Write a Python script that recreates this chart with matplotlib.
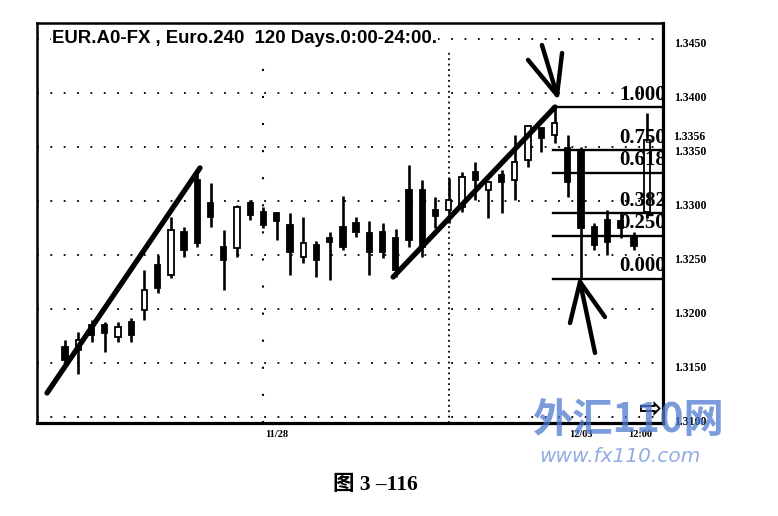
import matplotlib
matplotlib.use('Agg')
import matplotlib.pyplot as plt
from matplotlib.transforms import ScaledTranslation, blended_transform_factory

# ---- data ----
opens  = [1.3165, 1.3162, 1.3185, 1.3185, 1.3174, 1.3188, 1.3199, 1.3241, 1.3231, 1.3271,
          1.3319, 1.3298, 1.3257, 1.3256, 1.3298, 1.3290, 1.3289, 1.3278, 1.3248, 1.3259,
          1.3266, 1.3276, 1.3280, 1.3270, 1.3271, 1.3266, 1.3310, 1.3310, 1.3292, 1.3292,
          1.3294, 1.3327, 1.3310, 1.3324, 1.3319, 1.3338, 1.3368, 1.3361, 1.3349, 1.3347,
          1.3276, 1.3282, 1.3281, 1.3268, 1.3290]
closes = [1.3153, 1.3171, 1.3176, 1.3178, 1.3183, 1.3176, 1.3218, 1.3219, 1.3273, 1.3255,
          1.3261, 1.3285, 1.3245, 1.3294, 1.3287, 1.3278, 1.3281, 1.3253, 1.3261, 1.3245,
          1.3262, 1.3257, 1.3271, 1.3253, 1.3253, 1.3236, 1.3264, 1.3257, 1.3286, 1.3301,
          1.3322, 1.3319, 1.3318, 1.3318, 1.3336, 1.3369, 1.3358, 1.3372, 1.3318, 1.3275,
          1.3259, 1.3262, 1.3275, 1.3258, 1.3356]
highs  = [1.3171, 1.3179, 1.3190, 1.3188, 1.3188, 1.3192, 1.3236, 1.3250, 1.3285, 1.3276,
          1.3329, 1.3317, 1.3273, 1.3296, 1.3301, 1.3294, 1.3289, 1.3289, 1.3285, 1.3263,
          1.3271, 1.3305, 1.3285, 1.3281, 1.3280, 1.3274, 1.3333, 1.3319, 1.3304, 1.3321,
          1.3327, 1.3336, 1.3318, 1.3329, 1.3361, 1.3370, 1.3368, 1.3386, 1.3361, 1.3350,
          1.3280, 1.3292, 1.3290, 1.3271, 1.3381]
lows   = [1.3148, 1.3140, 1.3169, 1.3160, 1.3169, 1.3169, 1.3190, 1.3215, 1.3229, 1.3248,
          1.3257, 1.3276, 1.3218, 1.3248, 1.3282, 1.3275, 1.3264, 1.3231, 1.3243, 1.3230,
          1.3227, 1.3255, 1.3267, 1.3231, 1.3247, 1.3230, 1.3257, 1.3248, 1.3275, 1.3280,
          1.3290, 1.3301, 1.3284, 1.3289, 1.3301, 1.3331, 1.3345, 1.3354, 1.3304, 1.3229,
          1.3255, 1.3250, 1.3266, 1.3255, 1.3284]

price_ticks = [1.3100, 1.3150, 1.3200, 1.3250, 1.3300, 1.3350, 1.3400, 1.3450]
price_labels = ['1.3100', '1.3150', '1.3200', '1.3250', '1.3300', '1.3350', '1.3400', '1.3450']
last_price_label = '1.3356'
last_price_pos = 1.33593
date_ticks = [16, 39, 43.5]
date_labels = ['11/28', '12/03', '12:00']
separators = [15, 29]

trend1_x = [-1.36, 10.2]
trend1_y = [1.31222, 1.33306]
trend2_x = [24.8, 37.04]
trend2_y = [1.32296, 1.33870]

fib_low = 1.32280
fib_high = 1.33870
fib_start = 36.9
fib_ratios = [1.000, 0.750, 0.618, 0.382, 0.250, 0.000]
fib_texts = ['1.000', '0.750', '0.618', '0.382', '0.250', '0.000']

# hand-drawn arrows (index, price)
arrow_top = [([36.05, 37.19], [1.34444, 1.33981]),
             ([35.00, 37.19], [1.34306, 1.33981]),
             ([37.57, 37.19], [1.34370, 1.33981])]
arrow_bot = [([40.06, 38.93], [1.31593, 1.32250]),
             ([38.17, 38.93], [1.31870, 1.32250]),
             ([40.81, 38.93], [1.31926, 1.32250])]

title = 'EUR.A0-FX , Euro.240  120 Days.0:00-24:00.'
caption = '图 3 –116'

# ---- figure ----
W, H = 778, 516
fig = plt.figure(figsize=(W / 100, H / 100), dpi=100)
ax = fig.add_axes([37 / W, (H - 423) / H, (663 - 37) / W, (423 - 23) / H])
ax.set_xlim(-2.12, 45.2)
ax.set_ylim(1.30944, 1.34648)

for p in price_ticks:
    ax.axhline(p, color='black', lw=1.3, ls=(0, (1, 6.4)), zorder=1)
ax.axvline(separators[0], ymin=0, ymax=0.93, color='black', lw=1.5, ls=(0, (1, 12)), zorder=1)
ax.axvline(separators[1], ymin=0, ymax=0.93, color='black', lw=1.3, ls=(0, (1, 2)), zorder=1)

idx = list(range(len(opens)))
ax.vlines(idx, lows, highs, color='black', lw=1.9, zorder=3)
bottoms = [min(o, c) for o, c in zip(opens, closes)]
heights = [max(abs(c - o), 0.00005) for o, c in zip(opens, closes)]
faces = ['white' if c > o else 'black' for o, c in zip(opens, closes)]
ax.bar(idx, heights, bottom=bottoms, width=0.4, color=faces, edgecolor='black',
       linewidth=1.3, zorder=4)

ax.plot(trend1_x, trend1_y, color='black', lw=3.8, solid_capstyle='round', zorder=5)
ax.plot(trend2_x, trend2_y, color='black', lw=3.8, solid_capstyle='round', zorder=5)

rng = fib_high - fib_low
for r, t in zip(fib_ratios, fib_texts):
    lvl = fib_low + r * rng
    ax.plot([fib_start, 45.2], [lvl, lvl], color='black', lw=1.7, zorder=5)
    ax.text(41.9, lvl + 0.00022, t, ha='left', va='bottom', fontsize=15,
            fontweight='bold', family='Liberation Serif', clip_on=True, zorder=6)

for xs, ys in arrow_top + arrow_bot:
    ax.plot(xs, ys, color='black', lw=3.2, solid_capstyle='round', clip_on=False, zorder=7)

ax.text(0.024, 0.962, title, transform=ax.transAxes, ha='left', va='center',
        fontsize=13.4, fontweight='bold', family='Liberation Sans', zorder=8,
        bbox=dict(facecolor='white', edgecolor='none', pad=1))

ax.yaxis.tick_right()
ax.set_yticks(price_ticks)
ax.set_yticklabels(price_labels)
ax.tick_params(axis='y', length=0, pad=8)
for lab in ax.get_yticklabels():
    lab.set_fontfamily('Liberation Serif')
    lab.set_fontweight('bold')
    lab.set_fontsize(8.5)
    lab.set_transform(lab.get_transform() + ScaledTranslation(0, -4 / 100, fig.dpi_scale_trans))
trans = blended_transform_factory(ax.transAxes, ax.transData)
ax.text(1.0 + 10 / 626, last_price_pos, last_price_label, transform=trans, ha='left',
        va='center', fontsize=8.5, fontweight='bold', family='Liberation Serif')

ax.set_xticks(date_ticks)
ax.set_xticklabels(date_labels)
ax.tick_params(axis='x', length=0, pad=5)
for lab in ax.get_xticklabels():
    lab.set_fontfamily('Liberation Serif')
    lab.set_fontweight('bold')
    lab.set_fontsize(7.5)

for s in ax.spines.values():
    s.set_linewidth(1.8)
ax.spines['right'].set_linewidth(2.3)
ax.spines['bottom'].set_linewidth(2.3)

ax.text(44.2, 1.3108, '⇨', fontsize=20, fontweight='bold', family='DejaVu Sans',
        ha='center', va='center', zorder=8)

fig.text(628 / W, 1 - 420 / H, '外汇110网', fontsize=29, fontweight='bold',
         family=['Noto Sans CJK SC', 'DejaVu Sans'], color='#4f7bd0', alpha=0.75,
         ha='center', va='center', zorder=10)
fig.text(620 / W, 1 - 456 / H, 'www.fx110.com', fontsize=14.5, style='italic',
         family='DejaVu Sans', color='#7f9ede', alpha=0.85, ha='center', va='center', zorder=10)

fig.text(375 / W, 1 - 485 / H, caption, fontsize=15.5, fontweight='bold',
         family=['Liberation Serif', 'Noto Sans CJK SC'], ha='center', va='center')

fig.savefig('out.png', dpi=100)
